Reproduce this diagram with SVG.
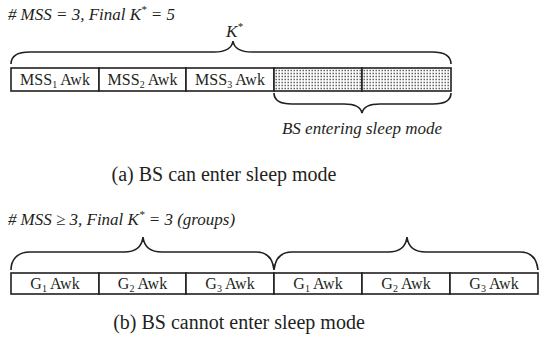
<svg xmlns="http://www.w3.org/2000/svg" width="539" height="337" viewBox="0 0 539 337">
<style>
.box{fill:#fff;stroke:#231f20;stroke-width:1.6}
.br{fill:none;stroke:#231f20;stroke-width:1.6}
.st{fill:none;stroke:#555;stroke-width:1.4;stroke-dasharray:1.4 1.6}
</style>
<g id="title-a"><text font-family="Times New Roman" font-style="italic" fill="#231f20" x="8" y="20" font-size="17">#<tspan dx="4">MSS = 3, Final K</tspan><tspan font-size="11" dy="-7">*</tspan><tspan dy="7"> = 5</tspan></text></g>
<g id="kstar"><text font-family="Times New Roman" font-style="italic" fill="#231f20" x="226" y="37" font-size="17">K<tspan font-size="11" dy="-7">*</tspan></text></g>
<g id="connectors">
<path class="br" d="M11,64 C11,56 17,52 30,52 L214,52 C226,52 232,48 233,41 C234,48 240,52 252,52 L432,52 C445,52 451,56 451,64"/>
<path class="br" d="M274,93 C274,100 280,104 292,104 L344,104 C356,104 361,108 362,113 C363,108 368,104 380,104 L433,104 C445,104 451,100 451,93"/>
<path class="br" d="M11,270 C11,260 17,252 30,252 L124,252 C136,252 142,246 143,237 C144,246 150,252 162,252 L256,252 C268,252 273,260 274,270 C275,260 280,252 292,252 L388,252 C400,252 406,246 407,237 C408,246 414,252 426,252 L520,252 C532,252 537,260 538,270"/>
</g>
<g id="row-a">
<g id="mss1"><rect class="box" x="11" y="68" width="88" height="23"/><text font-family="Times New Roman" fill="#231f20" font-size="16" text-anchor="middle" x="55" y="85">MSS<tspan font-size="10" dy="3">1</tspan><tspan dy="-3"> Awk</tspan></text></g>
<g id="mss2"><rect class="box" x="99" y="68" width="87" height="23"/><text font-family="Times New Roman" fill="#231f20" font-size="16" text-anchor="middle" x="142.5" y="85">MSS<tspan font-size="10" dy="3">2</tspan><tspan dy="-3"> Awk</tspan></text></g>
<g id="mss3"><rect class="box" x="186" y="68" width="88" height="23"/><text font-family="Times New Roman" fill="#231f20" font-size="16" text-anchor="middle" x="230" y="85">MSS<tspan font-size="10" dy="3">3</tspan><tspan dy="-3"> Awk</tspan></text></g>
<g id="sleep1"><rect class="box" x="274" y="68" width="88" height="23"/><path class="st" d="M275.5,70.5H361M275.5,73.5H361M275.5,76.5H361M275.5,79.5H361M275.5,82.5H361M275.5,85.5H361M275.5,88.5H361"/></g>
<g id="sleep2"><rect class="box" x="362" y="68" width="89" height="23"/><path class="st" d="M363.5,70.5H450M363.5,73.5H450M363.5,76.5H450M363.5,79.5H450M363.5,82.5H450M363.5,85.5H450M363.5,88.5H450"/></g>
</g>
<g id="sleep-label"><text font-family="Times New Roman" font-style="italic" fill="#231f20" x="362" y="134" font-size="17" text-anchor="middle">BS entering sleep mode</text></g>
<g id="caption-a"><text font-family="Times New Roman" fill="#231f20" x="224" y="181" font-size="20" text-anchor="middle">(a) BS can enter sleep mode</text></g>
<g id="title-b"><text font-family="Times New Roman" font-style="italic" fill="#231f20" x="8" y="225" font-size="17">#<tspan dx="4">MSS &#8805; 3, Final K</tspan><tspan font-size="11" dy="-7">*</tspan><tspan dy="7"> = 3 (groups)</tspan></text></g>
<g id="row-b">
<g id="g1a"><rect class="box" x="11" y="273" width="88" height="21"/><text font-family="Times New Roman" fill="#231f20" font-size="16" text-anchor="middle" x="55" y="289">G<tspan font-size="10" dy="3">1</tspan><tspan dy="-3"> Awk</tspan></text></g>
<g id="g2a"><rect class="box" x="99" y="273" width="87" height="21"/><text font-family="Times New Roman" fill="#231f20" font-size="16" text-anchor="middle" x="142.5" y="289">G<tspan font-size="10" dy="3">2</tspan><tspan dy="-3"> Awk</tspan></text></g>
<g id="g3a"><rect class="box" x="186" y="273" width="88" height="21"/><text font-family="Times New Roman" fill="#231f20" font-size="16" text-anchor="middle" x="230" y="289">G<tspan font-size="10" dy="3">3</tspan><tspan dy="-3"> Awk</tspan></text></g>
<g id="g1b"><rect class="box" x="274" y="273" width="88" height="21"/><text font-family="Times New Roman" fill="#231f20" font-size="16" text-anchor="middle" x="318" y="289">G<tspan font-size="10" dy="3">1</tspan><tspan dy="-3"> Awk</tspan></text></g>
<g id="g2b"><rect class="box" x="362" y="273" width="88" height="21"/><text font-family="Times New Roman" fill="#231f20" font-size="16" text-anchor="middle" x="406" y="289">G<tspan font-size="10" dy="3">2</tspan><tspan dy="-3"> Awk</tspan></text></g>
<g id="g3b"><rect class="box" x="450" y="273" width="88" height="21"/><text font-family="Times New Roman" fill="#231f20" font-size="16" text-anchor="middle" x="494" y="289">G<tspan font-size="10" dy="3">3</tspan><tspan dy="-3"> Awk</tspan></text></g>
</g>
<g id="caption-b"><text font-family="Times New Roman" fill="#231f20" x="239" y="329" font-size="20" text-anchor="middle">(b) BS cannot enter sleep mode</text></g>
</svg>
